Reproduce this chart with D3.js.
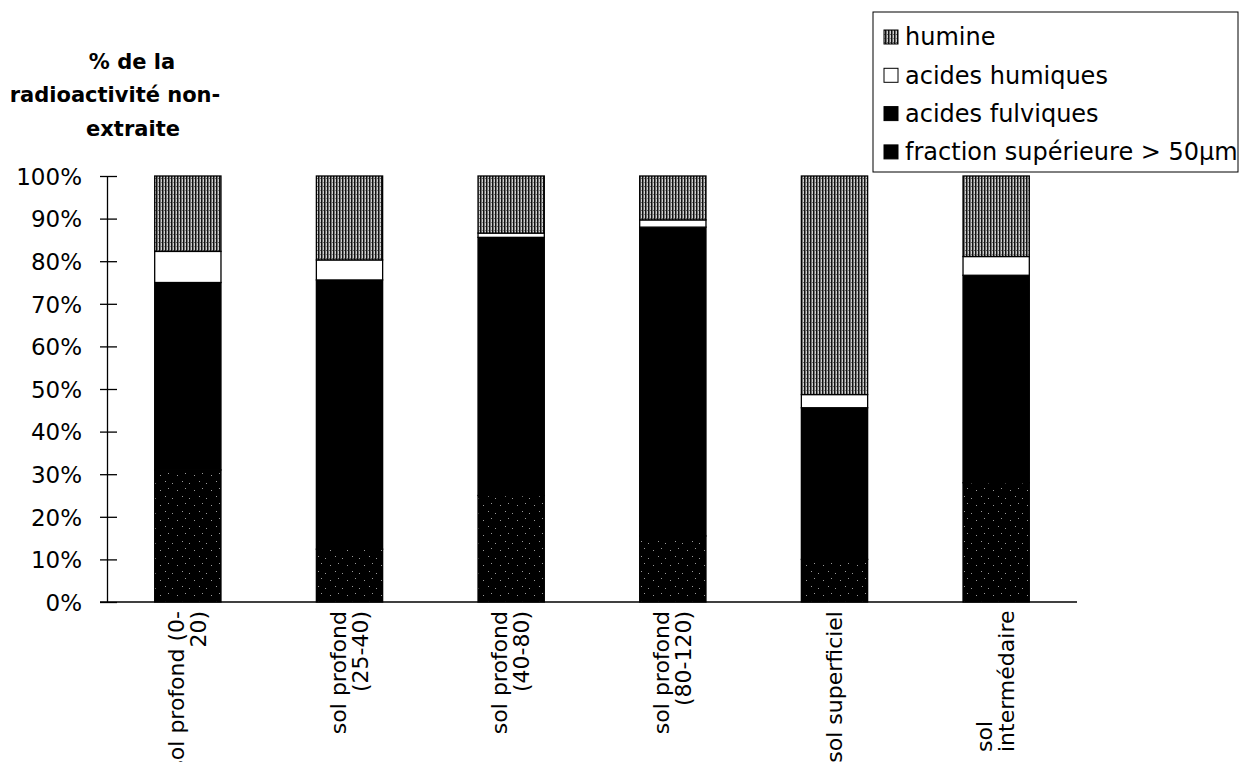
<!DOCTYPE html>
<html><head><meta charset="utf-8">
<script src="https://cdn.jsdelivr.net/npm/d3@7"></script>
<style>body{margin:0;background:#fff}svg{display:block}</style>
</head><body>
<svg id="c" width="1239" height="762"></svg>
<script>
// ---- data ----
const categories = ["sol profond (0-20)", "sol profond (25-40)", "sol profond (40-80)", "sol profond (80-120)", "sol superficiel", "sol intermédaire"];
const categoryLines = [["sol profond (0-", "20)"], ["sol profond", "(25-40)"], ["sol profond", "(40-80)"], ["sol profond", "(80-120)"], ["sol superficiel"], ["sol", "intermédaire"]];
const fraction  = [31, 12.4, 25, 15.5, 10, 28];
const fulviques = [44, 63.2, 60.6, 72.5, 35.6, 48.7];
const humiques  = [7.3, 4.7, 1.0, 1.7, 3.1, 4.4];
const humine    = [17.7, 19.7, 13.4, 10.3, 51.3, 18.9];
const seriesNames = ["fraction supérieure > 50µm", "acides fulviques", "acides humiques", "humine"];
const yTicks = [0, 10, 20, 30, 40, 50, 60, 70, 80, 90, 100];
const yTickLabels = yTicks.map(v => v + "%");
const titleLines = ["% de la", "radioactivité non-", "extraite"];

// ---- build ----
const svg = d3.select("#c");
const W = 1239, H = 762;
const m = {left: 107, right: 162, top: 176, bottom: 160};
const x = d3.scaleBand().domain(categories).range([m.left, W - m.right]).paddingInner(0.59).paddingOuter(0.295);
const y = d3.scaleLinear().domain([0, 100]).range([H - m.bottom, m.top]);

const defs = svg.append("defs");
// humine: vertical hatch
const ph = defs.append("pattern").attr("id", "hatch").attr("patternUnits", "userSpaceOnUse").attr("width", 3).attr("height", 8);
ph.append("rect").attr("width", 3).attr("height", 8).attr("fill", "#cfcfcf");
ph.append("rect").attr("width", 1.5).attr("height", 8).attr("fill", "#111");
ph.append("rect").attr("x", 2).attr("y", 2).attr("width", 1).attr("height", 1).attr("fill", "#666");
ph.append("rect").attr("x", 2).attr("y", 6).attr("width", 1).attr("height", 1).attr("fill", "#888");
// fraction: black with sparse speckles
const ps = defs.append("pattern").attr("id", "speck").attr("patternUnits", "userSpaceOnUse").attr("width", 17).attr("height", 15);
ps.append("rect").attr("width", 17).attr("height", 15).attr("fill", "#000");
[[2,3],[12,1],[7,10],[15,8]].forEach(([a,b]) => ps.append("rect").attr("x", a).attr("y", b).attr("width", 1).attr("height", 1).attr("fill", "#9a9a9a"));

const fills = ["url(#speck)", "#000", "#fff", "url(#hatch)"];
const rows = categories.map((c, i) => ({cat: c, s0: fraction[i], s1: fulviques[i], s2: humiques[i], s3: humine[i]}));
const stack = d3.stack().keys(["s0", "s1", "s2", "s3"]);
const layers = stack(rows);

svg.append("g").selectAll("g").data(layers).join("g")
  .attr("fill", (d, i) => fills[i])
  .selectAll("rect").data(d => d).join("rect")
  .attr("x", d => x(d.data.cat))
  .attr("width", x.bandwidth())
  .attr("y", d => y(d[1]))
  .attr("height", d => y(d[0]) - y(d[1]))
  .attr("stroke", "#000").attr("stroke-width", 1.3);

// y axis
const yAxis = d3.axisLeft(y).tickValues(yTicks).tickFormat((d, i) => yTickLabels[i]).tickSizeInner(7).tickSizeOuter(0).tickPadding(18);
const gy = svg.append("g").attr("transform", `translate(${m.left},0)`).call(yAxis);
gy.select(".domain").attr("stroke", "#000").attr("stroke-width", 1.3);
gy.selectAll(".tick line").attr("x1", 10).attr("x2", -7).attr("stroke", "#000").attr("stroke-width", 1.3);
gy.selectAll(".tick text").attr("font-family", "DejaVu Sans, sans-serif").attr("font-size", 23).attr("fill", "#000").attr("dy", "0.36em");

// x axis line
const y0 = y(0);
svg.append("line").attr("x1", 100).attr("x2", W - m.right).attr("y1", y0).attr("y2", y0).attr("stroke", "#000").attr("stroke-width", 1.5);

// x labels (rotated)
const lineGap = 22;
categoryLines.forEach((lines, i) => {
  const cx = x(categories[i]) + x.bandwidth() / 2;
  const n = lines.length;
  const g = svg.append("g");
  lines.forEach((t, j) => {
    const lx = cx + (j - (n - 1) / 2) * lineGap + 7;
    const txt = g.append("text")
      .attr("font-family", "DejaVu Sans, sans-serif").attr("font-size", 22).attr("fill", "#000")
      .text(t);
    const bottomAlign = (i === categoryLines.length - 1);
    if (bottomAlign) {
      txt.attr("text-anchor", "start").attr("transform", `translate(${lx},752) rotate(-90)`);
    } else {
      txt.attr("text-anchor", "end").attr("transform", `translate(${lx},611) rotate(-90)`);
    }
  });
});

// title
const tx = [132, 115, 133], ty = [69, 102, 136];
titleLines.forEach((t, i) => {
  svg.append("text").attr("x", tx[i]).attr("y", ty[i]).attr("text-anchor", "middle")
    .attr("font-family", "DejaVu Sans, sans-serif").attr("font-weight", "bold").attr("font-size", 21)
    .attr("fill", "#000").text(t);
});

// legend
const lg = svg.append("g");
lg.append("rect").attr("x", 873).attr("y", 12).attr("width", 365).attr("height", 160)
  .attr("fill", "#fff").attr("stroke", "#000").attr("stroke-width", 1);
const legendOrder = [3, 2, 1, 0];
legendOrder.forEach((si, k) => {
  const cy = 37 + k * 38.3;
  lg.append("rect").attr("x", 884).attr("y", cy - 7).attr("width", 14).attr("height", 14)
    .attr("fill", fills[si] === "url(#speck)" ? "#000" : fills[si]).attr("stroke", "#000").attr("stroke-width", 1);
  lg.append("text").attr("x", 905).attr("y", cy).attr("dy", "0.35em")
    .attr("font-family", "DejaVu Sans, sans-serif").attr("font-size", 24).attr("fill", "#000")
    .text(seriesNames[si]);
});
</script>
</body></html>
